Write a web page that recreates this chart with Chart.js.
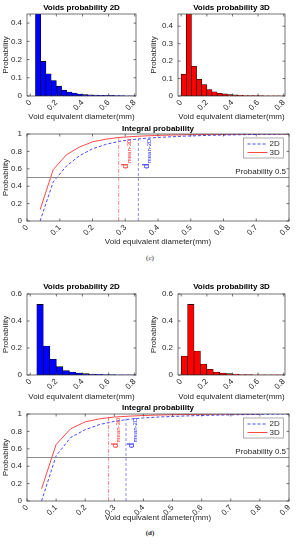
<!DOCTYPE html>
<html><head><meta charset="utf-8">
<script src="https://cdn.jsdelivr.net/npm/chart.js@4.4.1/dist/chart.umd.min.js"></script>
<style>
html,body{margin:0;padding:0;background:#fff;width:298px;height:550px;overflow:hidden;}
canvas{position:absolute;}
.cap{position:absolute;font-family:"Liberation Serif","DejaVu Serif",serif;font-size:7px;color:#222;transform:translate(-50%,-50%);white-space:nowrap;}
</style></head><body>
<canvas id="cHist2D" width="148" height="122" style="left:0;top:0"></canvas>
<canvas id="cHist3D" width="150" height="122" style="left:148px;top:0"></canvas>
<canvas id="cInt" width="298" height="125" style="left:0;top:122px"></canvas>
<div class="cap" style="left:150px;top:258px">(c)</div>
<canvas id="dHist2D" width="148" height="122" style="left:0;top:280px"></canvas>
<canvas id="dHist3D" width="150" height="122" style="left:148px;top:280px"></canvas>
<canvas id="dInt" width="298" height="121" style="left:0;top:402px"></canvas>
<div class="cap" style="left:150px;top:533px;font-weight:bold">(d)</div>
<script>
// ---------- DATA ----------
// panel (c): histogram bin centres (mm) and probabilities
const cBins = [0.02,0.06,0.10,0.14,0.18,0.22,0.26,0.30,0.34,0.38,0.42,0.46,0.50,0.54,0.58,0.62,0.66,0.70,0.74,0.78];
const cHist2D = [0,0.47,0.19,0.122,0.085,0.054,0.032,0.022,0.016,0.011,0.008,0.006,0.005,0.004,0.003,0.003,0.002,0.002,0.001,0.001];
const cHist3D = [0.125,0.48,0.17,0.096,0.066,0.037,0.024,0.016,0.012,0.008,0.006,0.004,0.003,0.003,0.002,0.002,0.001,0.001,0.001,0.001];
// panel (c): integral probability
const cIntX = [0.04,0.08,0.12,0.16,0.20,0.24,0.28,0.32,0.36,0.40,0.44,0.48,0.52,0.56,0.60,0.64,0.68,0.72,0.76,0.80];
const cInt2D = [0,0.45,0.63,0.75,0.83,0.88,0.915,0.935,0.95,0.96,0.968,0.975,0.98,0.985,0.988,0.991,0.994,0.996,0.998,1.0];
const cInt3D = [0.13,0.59,0.76,0.85,0.91,0.94,0.96,0.97,0.978,0.984,0.988,0.991,0.993,0.995,0.996,0.997,0.998,0.999,0.999,1.0];
const cMean3D = 0.28, cMean2D = 0.34;
const cMeanTop3D = 0.965, cMeanTop2D = 0.945;

// panel (d)
const dBins = [0.025,0.075,0.125,0.175,0.225,0.275,0.325,0.375,0.425,0.475,0.525,0.575,0.625,0.675,0.725,0.775];
const dHist2D = [0,0.523,0.215,0.116,0.062,0.032,0.022,0.015,0.010,0.007,0.005,0.004,0.003,0.002,0.002,0.001];
const dHist3D = [0.14,0.523,0.178,0.081,0.042,0.022,0.015,0.010,0.006,0.004,0.003,0.002,0.002,0.001,0.001,0.001];
const dIntX2D = [0.05,0.10,0.15,0.20,0.25,0.30,0.35,0.40,0.45,0.50,0.55,0.60,0.65,0.70,0.75,0.80,0.85,0.90];
const dInt2D = [0,0.52,0.73,0.82,0.88,0.915,0.94,0.955,0.965,0.972,0.978,0.983,0.987,0.99,0.993,0.996,0.998,1.0];
const dIntX3D = [0.05,0.10,0.15,0.20,0.25,0.30,0.35,0.40,0.45,0.50,0.55,0.60,0.65,0.70,0.75,0.80];
const dInt3D = [0.14,0.65,0.83,0.91,0.945,0.965,0.975,0.983,0.988,0.992,0.994,0.996,0.998,0.999,0.999,1.0];
const dMean3D = 0.28, dMean2D = 0.34;
const dMeanTop3D = 0.965, dMeanTop2D = 0.95;

// tick labels
const histXTicks = [0,0.2,0.4,0.6,0.8];
const histXLabels = ['0','0.2','0.4','0.6','0.8'];
const cHistYTicks = [0,0.1,0.2,0.3,0.4];
const cHistYLabels = ['0','0.1','0.2','0.3','0.4'];
const dHistYTicks = [0,0.2,0.4,0.6];
const dHistYLabels = ['0','0.2','0.4','0.6'];
const intYTicks = [0,0.2,0.4,0.6,0.8,1];
const intYLabels = ['0','0.2','0.4','0.6','0.8','1'];
const cIntXTicks = [0,0.1,0.2,0.3,0.4,0.5,0.6,0.7,0.8];
const cIntXLabels = ['0','0.1','0.2','0.3','0.4','0.5','0.6','0.7','0.8'];
const dIntXTicks = [0,0.1,0.2,0.3,0.4,0.5,0.6,0.7,0.8,0.9];
const dIntXLabels = ['0','0.1','0.2','0.3','0.4','0.5','0.6','0.7','0.8','0.9'];

// ---------- STYLE ----------
const FONT = '"Liberation Sans", Arial, Helvetica, sans-serif';
Chart.defaults.font.family = FONT;
Chart.defaults.font.size = 8;
Chart.defaults.color = '#262626';
const AX = '#3a3a3a';
const BLUE = 'rgba(40,40,255,0.85)';
const RED = 'rgba(255,40,40,0.85)';

const framePlugin = {
  id: 'frame',
  afterDatasetsDraw(chart, args, o) {
    const {ctx, chartArea: a, scales} = chart;
    ctx.save();
    ctx.strokeStyle = AX; ctx.lineWidth = 0.7;
    ctx.strokeRect(a.left, a.top, a.right - a.left, a.bottom - a.top);
    const tl = 2.5;
    ctx.beginPath();
    scales.x.ticks.forEach(t => {
      const px = scales.x.getPixelForValue(t.value);
      ctx.moveTo(px, a.bottom); ctx.lineTo(px, a.bottom - tl);
      ctx.moveTo(px, a.top); ctx.lineTo(px, a.top + tl);
    });
    scales.y.ticks.forEach(t => {
      const py = scales.y.getPixelForValue(t.value);
      ctx.moveTo(a.left, py); ctx.lineTo(a.left + tl, py);
      ctx.moveTo(a.right, py); ctx.lineTo(a.right - tl, py);
    });
    ctx.stroke();
    if (o.title) {
      ctx.fillStyle = '#000';
      ctx.font = 'bold 8px ' + FONT;
      ctx.textAlign = 'center'; ctx.textBaseline = 'middle';
      ctx.fillText(o.title, (a.left + a.right) / 2, a.top - o.titleGap);
    }
    if (o.integral) {
      const x = scales.x, y = scales.y;
      ctx.fillStyle = '#262626'; ctx.font = '8px ' + FONT;
      ctx.textAlign = 'right'; ctx.textBaseline = 'middle';
      ctx.fillText('Probability 0.5', a.right - 3, y.getPixelForValue(0.5) - 6);
      o.means.forEach(m => {
        ctx.save();
        ctx.translate(x.getPixelForValue(m.x), y.getPixelForValue(m.y));
        ctx.rotate(-Math.PI / 2);
        ctx.fillStyle = m.color;
        ctx.textAlign = 'left'; ctx.textBaseline = 'alphabetic';
        ctx.font = '9px ' + FONT;
        ctx.fillText('d', 0, 0);
        const w = ctx.measureText('d').width;
        ctx.font = '6px ' + FONT;
        ctx.fillText(m.sub, w + 0.5, 2.5);
        ctx.restore();
      });
      const bw = 40, bh = 20;
      const bx = a.right - 5.5 - bw, by = a.top + 4;
      ctx.fillStyle = '#fff'; ctx.fillRect(bx, by, bw, bh);
      ctx.strokeStyle = '#8a8a8a'; ctx.lineWidth = 0.7; ctx.strokeRect(bx, by, bw, bh);
      const rows = [{t:'2D', c:BLUE, dash:[3,2]}, {t:'3D', c:RED, dash:[]}];
      rows.forEach((r, i) => {
        const ry = by + 6 + i * 8.5;
        ctx.beginPath(); ctx.setLineDash(r.dash); ctx.strokeStyle = r.c; ctx.lineWidth = 1;
        ctx.moveTo(bx + 4, ry); ctx.lineTo(bx + 24, ry); ctx.stroke();
        ctx.setLineDash([]);
        ctx.fillStyle = '#262626'; ctx.font = '8px ' + FONT;
        ctx.textAlign = 'left'; ctx.textBaseline = 'middle';
        ctx.fillText(r.t, bx + 26, ry);
      });
    }
    ctx.restore();
  }
};

function fixedTicks(vals) { return s => { s.ticks = vals.map(v => ({value: v})); }; }
const NOGRID = {display: false, drawTicks: false, tickLength: 0};

function histChart(id, g, bins, vals, color, ymax, yT, yL, title) {
  return new Chart(document.getElementById(id), {
    type: 'bar',
    data: { datasets: [{
      data: bins.map((b, i) => ({x: b, y: vals[i]})),
      backgroundColor: color, borderColor: '#000', borderWidth: 0.6,
      barPercentage: 1, categoryPercentage: 1, grouped: false, borderSkipped: false
    }]},
    options: {
      responsive: false, animation: false, events: [],
      layout: {padding: {top: g.top, right: g.right, left: 0, bottom: 0}},
      plugins: {legend: {display: false}, tooltip: {enabled: false},
        frame: {title: title, titleGap: g.titleGap}},
      scales: {
        x: {type: 'linear', min: g.xmin, max: g.xmax, offset: false,
          grid: NOGRID, border: {display: false},
          afterBuildTicks: fixedTicks(histXTicks),
          afterFit: s => { s.height = g.xh; },
          ticks: {minRotation: 45, maxRotation: 45, padding: 2, autoSkip: false,
            callback: (v, i) => histXLabels[i]},
          title: {display: true, text: 'Void equivalent diameter(mm)', padding: 0}},
        y: {min: 0, max: ymax, grid: NOGRID, border: {display: false},
          afterBuildTicks: fixedTicks(yT),
          afterFit: s => { s.width = g.yw; },
          ticks: {padding: 5, callback: (v, i) => yL[i]},
          title: {display: true, text: 'Probability', padding: {top: 1, bottom: 0}}}
      }
    },
    plugins: [framePlugin]
  });
}

function intChart(id, g, x2, y2, x3, y3, m3, m2, top3, top2, xmax, xT, xL, means) {
  const pts = (xs, ys) => xs.map((x, i) => ({x, y: ys[i]}));
  return new Chart(document.getElementById(id), {
    type: 'line',
    data: { datasets: [
      {data: [{x: 0, y: 0.5}, {x: xmax, y: 0.5}], borderColor: '#8c8c8c', borderWidth: 1},
      {data: [{x: m3, y: 0}, {x: m3, y: top3}], borderColor: 'rgba(255,60,60,0.75)', borderWidth: 0.8, borderDash: [4, 1.5, 1, 1.5]},
      {data: [{x: m2, y: 0}, {x: m2, y: top2}], borderColor: 'rgba(60,60,255,0.75)', borderWidth: 0.8, borderDash: [3, 2]},
      {data: pts(x2, y2), borderColor: BLUE, borderWidth: 1, borderDash: [3, 2]},
      {data: pts(x3, y3), borderColor: RED, borderWidth: 1}
    ]},
    options: {
      responsive: false, animation: false, events: [],
      elements: {point: {radius: 0}, line: {tension: 0}},
      layout: {padding: {top: g.top, right: g.right, left: 0, bottom: 0}},
      plugins: {legend: {display: false}, tooltip: {enabled: false},
        frame: {title: 'Integral probability', titleGap: g.titleGap, integral: true, means: means}},
      scales: {
        x: {type: 'linear', min: 0, max: xmax, grid: NOGRID, border: {display: false},
          afterBuildTicks: fixedTicks(xT),
          afterFit: s => { s.height = g.xh; },
          ticks: {minRotation: 45, maxRotation: 45, padding: 2, autoSkip: false,
            callback: (v, i) => xL[i]},
          title: {display: true, text: 'Void equivalent diameter(mm)', padding: 0}},
        y: {min: 0, max: 1, grid: NOGRID, border: {display: false},
          afterBuildTicks: fixedTicks(intYTicks),
          afterFit: s => { s.width = g.yw; },
          ticks: {padding: 5, callback: (v, i) => intYLabels[i]},
          title: {display: true, text: 'Probability', padding: {top: 1, bottom: 0}}}
      }
    },
    plugins: [framePlugin]
  });
}

const HX = {xmin: -0.025, xmax: 0.81};
histChart('cHist2D', {...HX, top: 14, right: 12, xh: 26, yw: 27, titleGap: 6}, cBins, cHist2D, '#0000ff', 0.45, cHistYTicks, cHistYLabels, 'Voids probability 2D');
histChart('cHist3D', {...HX, top: 14, right: 13, xh: 26, yw: 30, titleGap: 6}, cBins, cHist3D, '#ff0000', 0.47, cHistYTicks, cHistYLabels, 'Voids probability 3D');
intChart('cInt', {top: 12, right: 9, xh: 26, yw: 27, titleGap: 5.5}, cIntX, cInt2D, cIntX, cInt3D,
  cMean3D, cMean2D, cMeanTop3D, cMeanTop2D, 0.8, cIntXTicks, cIntXLabels,
  [{x: 0.309, y: 0.6, sub: 'mean-3D', color: '#ff2020'}, {x: 0.372, y: 0.6, sub: 'mean-2D', color: '#2020ff'}]);
histChart('dHist2D', {...HX, top: 14, right: 12, xh: 27, yw: 27, titleGap: 7}, dBins, dHist2D, '#0000ff', 0.6, dHistYTicks, dHistYLabels, 'Voids probability 2D');
histChart('dHist3D', {...HX, top: 14, right: 13, xh: 27, yw: 30, titleGap: 7}, dBins, dHist3D, '#ff0000', 0.6, dHistYTicks, dHistYLabels, 'Voids probability 3D');
intChart('dInt', {top: 12, right: 9, xh: 22, yw: 27, titleGap: 6}, dIntX2D, dInt2D, dIntX3D, dInt3D,
  dMean3D, dMean2D, dMeanTop3D, dMeanTop2D, 0.9, dIntXTicks, dIntXLabels,
  [{x: 0.311, y: 0.61, sub: 'mean-3D', color: '#ff2020'}, {x: 0.369, y: 0.61, sub: 'mean-2D', color: '#2020ff'}]);
</script>
</body></html>
